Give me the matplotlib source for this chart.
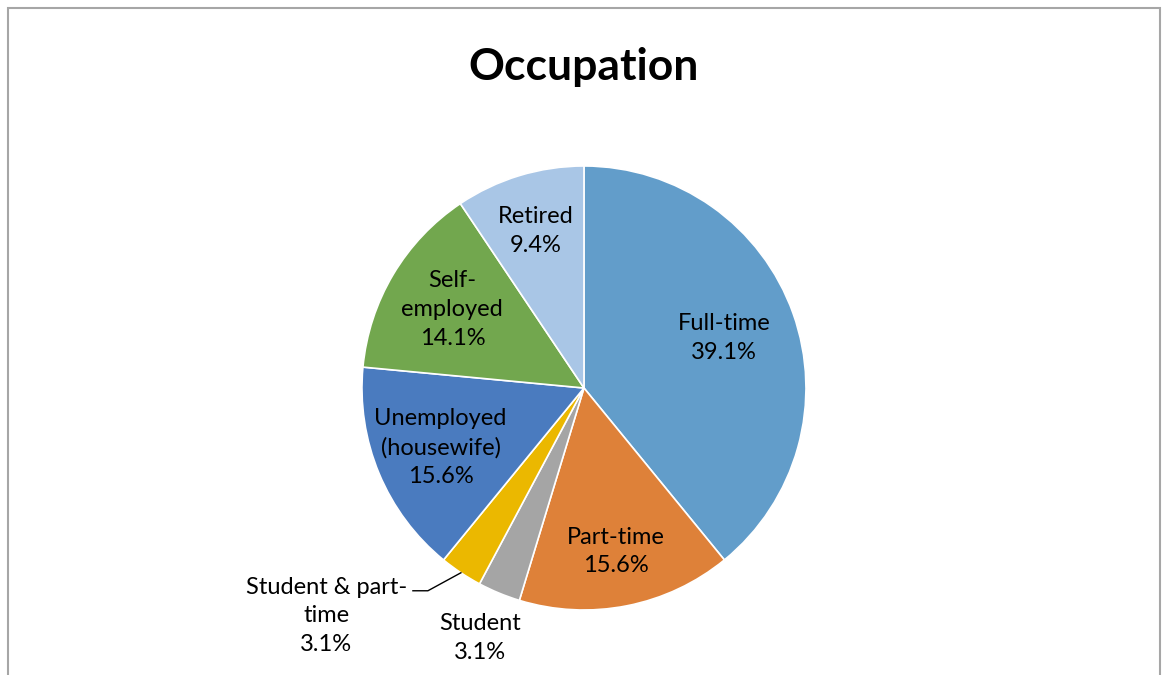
import numpy as np
import matplotlib
matplotlib.use("Agg")
import matplotlib.pyplot as plt
from matplotlib.patches import Rectangle

plt.rcParams["font.family"] = ["Lato", "DejaVu Sans"]

# Chart data
categories = ["Full-time", "Part-time", "Student", "Student & part-\ntime",
              "Unemployed\n(housewife)", "Self-\nemployed", "Retired"]
shares = [39.1, 15.6, 3.1, 3.1, 15.6, 14.1, 9.4]
colors = ["#629DCA", "#DE8139", "#A5A5A5", "#EBB800",
          "#4A7BBF", "#72A74E", "#A9C6E6"]

fig = plt.figure(figsize=(11.62, 6.75), dpi=100)

# grey frame around the chart area (bottom edge is cut off)
fig.patches.append(Rectangle((8 / 1162, -0.05), 1152 / 1162, 1.05 - 7.5 / 675,
                             transform=fig.transFigure, fill=False,
                             edgecolor="#A6A6A6", linewidth=1.5))

ax = fig.add_axes([0.3115, 0.0963, 0.3821, 0.6578])
wedges, _ = ax.pie(shares, colors=colors, startangle=90, counterclock=False,
                   radius=1.0, wedgeprops=dict(edgecolor="white", linewidth=1.2))
ax.set_xlim(-1, 1)
ax.set_ylim(-1, 1)
ax.set_aspect("equal")
ax.axis("off")

# label distance from centre for each wedge (inside labels), outside for small ones
label_r = [0.67, 0.75, 1.22, None, 0.70, 0.69, 0.74]
for w, name, pct, r in zip(wedges, categories, shares, label_r):
    mid = np.deg2rad((w.theta1 + w.theta2) / 2)
    text = f"{name}\n{pct:.1f}%"
    if r is not None:
        ax.text(r * np.cos(mid), r * np.sin(mid), text, ha="center", va="center",
                fontsize=17, linespacing=1.45, color="#000000")
    else:
        ex, ey = np.cos(mid), np.sin(mid)
        kx, ky = ex - 33 / 222, ey - 18 / 222
        ax.plot([ex, kx, kx - 15 / 222], [ey, ky, ky], color="black",
                linewidth=1, clip_on=False)
        ax.text(kx - 21 / 222, ky + 14 / 222, text, ha="right", va="top",
                fontsize=17, linespacing=1.45, multialignment="center",
                color="#000000")

fig.text(0.5026, 1 - 67 / 675, "Occupation", ha="center", va="center",
         fontsize=32, fontweight="bold")

fig.savefig("out.png", dpi=100)
